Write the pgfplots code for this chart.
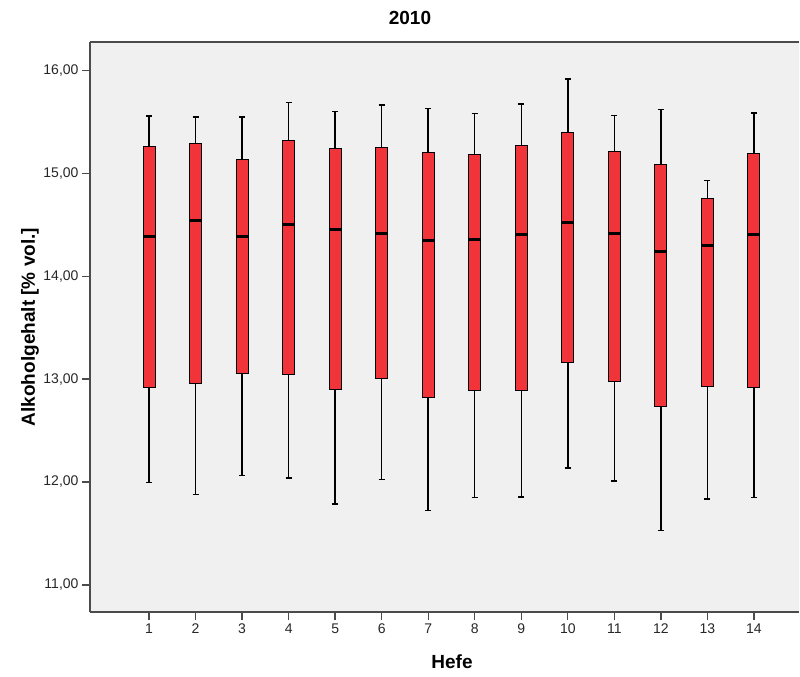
\documentclass[border=0pt]{standalone}
\usepackage{fontspec}
\setmainfont{Liberation Sans}
\usepackage{pgfplots}
\pgfplotsset{compat=1.18}
\usepgfplotslibrary{statistics}

\definecolor{boxred}{RGB}{240,52,58}
\definecolor{plotbg}{RGB}{240,240,240}
\definecolor{frame}{RGB}{75,75,75}

% one SPSS style box: lower whisker, Q1, median, Q3, upper whisker, position
\pgfplotsset{
  spssbox/.style n args={6}{
    boxplot prepared={
      lower whisker=#1, lower quartile=#2, median=#3,
      upper quartile=#4, upper whisker=#5, draw position=#6},
    fill=boxred, draw=black, line width=0.9bp,
    boxplot/every whisker/.style={line width=1.5bp},
    boxplot/every median/.style={black, line width=3bp},
  },
}

\begin{document}
\begin{tikzpicture}
\path[use as bounding box] (-90bp,-65bp) rectangle (710bp,612bp);
\begin{axis}[
  at={(0,0)}, anchor=south west,
  scale only axis, width=709bp, height=570bp,
  xmin=-0.27, xmax=14.97, ymin=10.736, ymax=16.278,
  axis background/.style={fill=plotbg},
  axis x line*=box, axis y line*=left,
  axis line style={frame, line width=1.4bp},
  tick align=outside, major tick length=8bp,
  xtick={1,...,14}, ytick={11,...,16},
  xtick pos=bottom, ytick pos=left,
  tick style={frame, line width=1.4bp},
  ticklabel style={font=\fontsize{14bp}{16bp}\selectfont, text=black!85},
  xticklabel style={/pgf/number format/assume math mode=true},
  yticklabel style={/pgf/number format/fixed,
    /pgf/number format/fixed zerofill,
    /pgf/number format/precision=2,
    /pgf/number format/use comma,
    /pgf/number format/assume math mode=true},
  boxplot/draw direction=y,
  boxplot/box extend=0.26,
  boxplot/whisker extend=0.13,
]
\addplot[spssbox={11.996}{12.915}{14.391}{15.264}{15.559}{1}] coordinates {};
\addplot[spssbox={11.880}{12.958}{14.538}{15.291}{15.549}{2}] coordinates {};
\addplot[spssbox={12.064}{13.058}{14.383}{15.135}{15.549}{3}] coordinates {};
\addplot[spssbox={12.038}{13.046}{14.503}{15.323}{15.689}{4}] coordinates {};
\addplot[spssbox={11.785}{12.903}{14.455}{15.242}{15.602}{5}] coordinates {};
\addplot[spssbox={12.025}{13.007}{14.412}{15.248}{15.663}{6}] coordinates {};
\addplot[spssbox={11.724}{12.822}{14.348}{15.206}{15.631}{7}] coordinates {};
\addplot[spssbox={11.847}{12.886}{14.358}{15.184}{15.582}{8}] coordinates {};
\addplot[spssbox={11.856}{12.893}{14.409}{15.274}{15.673}{9}] coordinates {};
\addplot[spssbox={12.138}{13.158}{14.526}{15.397}{15.918}{10}] coordinates {};
\addplot[spssbox={12.009}{12.981}{14.416}{15.209}{15.563}{11}] coordinates {};
\addplot[spssbox={11.526}{12.731}{14.241}{15.086}{15.621}{12}] coordinates {};
\addplot[spssbox={11.837}{12.925}{14.299}{14.759}{14.931}{13}] coordinates {};
\addplot[spssbox={11.847}{12.915}{14.402}{15.199}{15.588}{14}] coordinates {};
\end{axis}
% title and axis labels
\node[font=\bfseries\fontsize{19bp}{22bp}\selectfont] at (320bp,594bp) {2010};
\node[font=\bfseries\fontsize{19bp}{22bp}\selectfont] at (362bp,-50bp) {Hefe};
\node[font=\bfseries\fontsize{19bp}{22bp}\selectfont, rotate=90] at (-60bp,285bp) {Alkoholgehalt [\% vol.]};
\end{tikzpicture}
\end{document}
